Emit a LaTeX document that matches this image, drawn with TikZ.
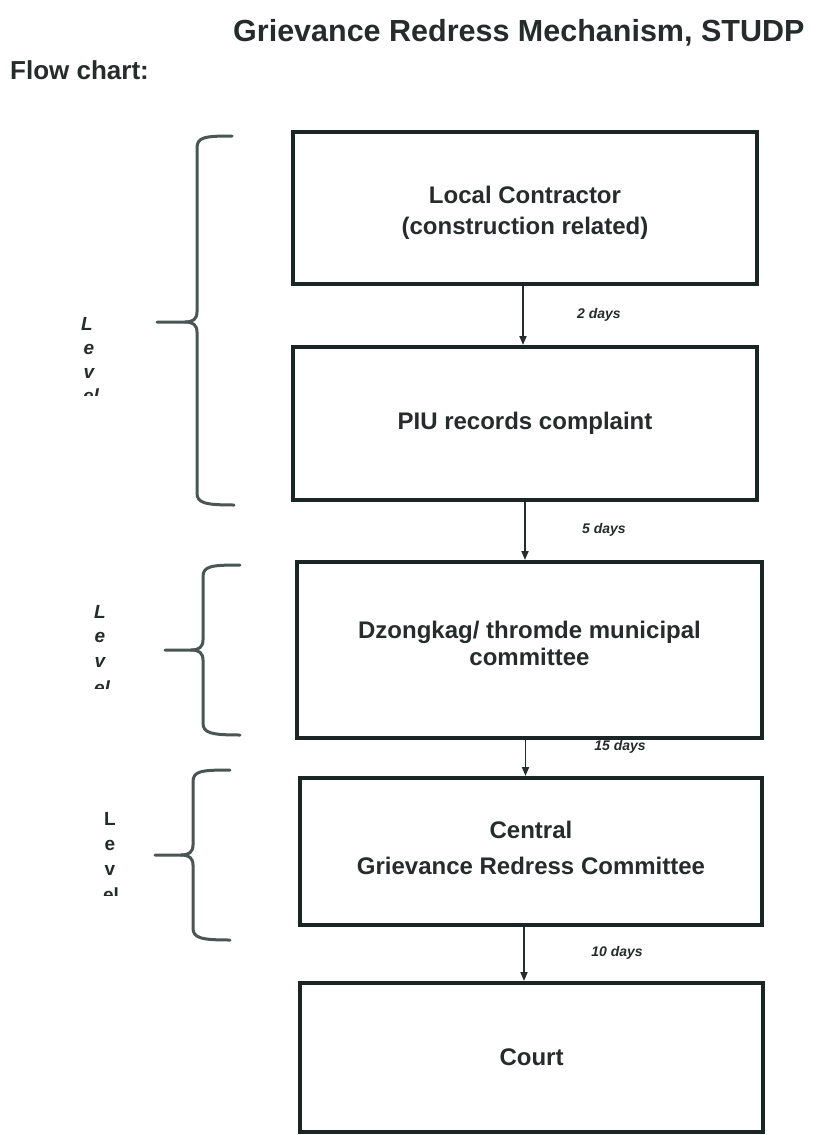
\documentclass[tikz,border=0pt]{standalone}
\usepackage{fontspec}
\setmainfont{Liberation Sans}
\usetikzlibrary{arrows.meta,calc}
\definecolor{ink}{HTML}{262C2B}
\definecolor{boxline}{HTML}{1B2624}
\definecolor{bracec}{HTML}{4A5654}
\newcommand{\twolines}[2]{\raisebox{#1}[0pt][0pt]{\begin{tabular}{@{}c@{}}#2\end{tabular}}}
\tikzset{
  box/.style={draw=boxline, line width=4pt, align=center, text=ink,
    font=\bfseries\fontsize{24}{30}\selectfont},
  arr/.style={draw=ink, line width=1.8pt, -{Triangle[length=9pt,width=7pt]}},
  day/.style={font=\bfseries\itshape\fontsize{14}{16}\selectfont, text=ink},
  lvl/.style={font=\bfseries\itshape\fontsize{19}{21}\selectfont, text=ink, anchor=base, inner sep=0pt},
  lvlup/.style={font=\bfseries\fontsize{19}{21}\selectfont, text=ink, anchor=base, inner sep=0pt},
  brace/.style={draw=bracec, line width=3pt, line cap=round},
}
\begin{document}
\begin{tikzpicture}[x=1pt,y=-1pt]
\useasboundingbox[fill=white] (0,0) rectangle (817,1135);

% titles
\node[anchor=base west, inner sep=0pt, text=ink, font=\bfseries\fontsize{30.5}{36}\selectfont] (title) at (233,41) {Grievance Redress Mechanism, STUDP};
\node[anchor=base west, inner sep=0pt, text=ink, font=\bfseries\fontsize{26}{31}\selectfont] (fc) at (10,79) {Flow chart:};

% boxes
\node[box, minimum width=464pt, minimum height=152pt] (b1) at (525,208) {\twolines{-11pt}{Local Contractor\\[1pt](construction related)}};
\node[box, minimum width=464pt, minimum height=153pt] (b2) at (525,423.5) {PIU records complaint};
\node[box, minimum width=465pt, minimum height=176pt] (b3) at (529.5,650) {\twolines{-2pt}{Dzongkag/ thromde municipal\\[-3pt]committee}};
\node[box, minimum width=462pt, minimum height=147pt] (b4) at (531,851.5) {\twolines{-5.5pt}{Central\\[6pt]Grievance Redress Committee}};
\node[box, minimum width=463pt, minimum height=149pt] (b5) at (531.5,1057.5) {Court};

% arrows
\draw[arr] ([xshift=-2pt]b1.south) -- ([xshift=-2pt]b1.south |- b2.north);
\draw[arr] (b2.south) -- (b2.south |- b3.north);
\draw[arr] ([xshift=-4pt]b3.south) -- ([xshift=-4pt]b3.south |- b4.north);
\draw[arr] ([xshift=-7pt]b4.south) -- ([xshift=-7pt]b4.south |- b5.north);

% day labels
\node[day] (d1) at (599,315) {2 days};
\node[day] (d2) at (604,530) {5 days};
\node[day] (d3) at (620,747) {15 days};
\node[day] (d4) at (617,953) {10 days};

% braces
\draw[brace] (232,136) .. controls (205,136) and (197,137) .. (197,148) -- (197,312)
  .. controls (197,319) and (193,322) .. (185,322) -- (157,322);
\draw[brace] (185,322) .. controls (193,322) and (197,325) .. (197,332) -- (197,493)
  .. controls (197,503) and (205,505) .. (234,505);

\draw[brace] (240,565) .. controls (211,565) and (203,566) .. (203,577) -- (203,640)
  .. controls (203,647) and (199,650) .. (191,650) -- (165,650);
\draw[brace] (191,650) .. controls (199,650) and (203,653) .. (203,660) -- (203,723)
  .. controls (203,733) and (211,735) .. (240,735);

\draw[brace] (230,770) .. controls (201,770) and (193,771) .. (193,782) -- (193,845)
  .. controls (193,852) and (189,855) .. (181,855) -- (155,855);
\draw[brace] (181,855) .. controls (189,855) and (193,858) .. (193,865) -- (193,928)
  .. controls (193,938) and (201,940) .. (230,940);

% Level letters (text box cut off)
\node[lvl] (la1) at (87,330) {L};
\node[lvl] (la2) at (89,354) {e};
\node[lvl] (la3) at (89,378) {v};
\begin{scope}
  \clip (70,380) rectangle (120,395);
  \node[lvl] (la4) at (91,402) {el};
\end{scope}

\node[lvl] (lb1) at (100,618) {L};
\node[lvl] (lb2) at (100,642) {e};
\node[lvl] (lb3) at (100,667) {v};
\begin{scope}
  \clip (80,669) rectangle (130,688);
  \node[lvl] (lb4) at (102,694) {el};
\end{scope}

\node[lvlup] (lc1) at (110,825) {L};
\node[lvlup] (lc2) at (110,850) {e};
\node[lvlup] (lc3) at (110,875) {v};
\begin{scope}
  \clip (90,877) rectangle (140,895);
  \node[lvlup] (lc4) at (111,901) {el};
\end{scope}
\end{tikzpicture}
\end{document}
